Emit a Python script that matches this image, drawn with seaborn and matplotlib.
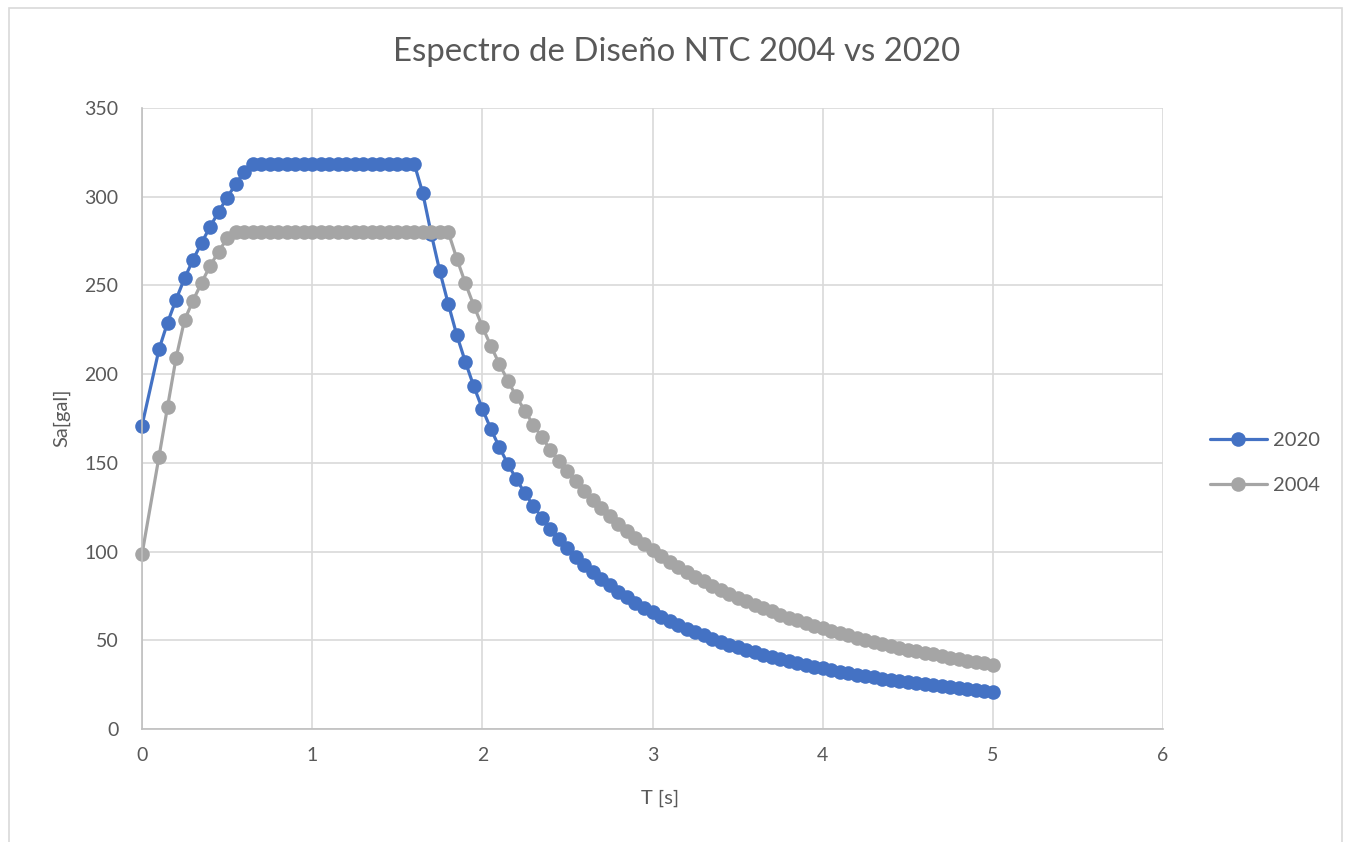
import matplotlib
matplotlib.use("Agg")
import matplotlib.pyplot as plt
import pandas as pd
import seaborn as sns
from matplotlib.patches import Rectangle

# Periodos estructurales T [s]
periods = [
    0.0, 0.1, 0.15, 0.2, 0.25, 0.3, 0.35, 0.4, 0.45, 0.5,
    0.55, 0.6, 0.65, 0.7, 0.75, 0.8, 0.85, 0.9, 0.95, 1.0,
    1.05, 1.1, 1.15, 1.2, 1.25, 1.3, 1.35, 1.4, 1.45, 1.5,
    1.55, 1.6, 1.65, 1.7, 1.75, 1.8, 1.85, 1.9, 1.95, 2.0,
    2.05, 2.1, 2.15, 2.2, 2.25, 2.3, 2.35, 2.4, 2.45, 2.5,
    2.55, 2.6, 2.65, 2.7, 2.75, 2.8, 2.85, 2.9, 2.95, 3.0,
    3.05, 3.1, 3.15, 3.2, 3.25, 3.3, 3.35, 3.4, 3.45, 3.5,
    3.55, 3.6, 3.65, 3.7, 3.75, 3.8, 3.85, 3.9, 3.95, 4.0,
    4.05, 4.1, 4.15, 4.2, 4.25, 4.3, 4.35, 4.4, 4.45, 4.5,
    4.55, 4.6, 4.65, 4.7, 4.75, 4.8, 4.85, 4.9, 4.95, 5.0,
]

# Aceleracion espectral Sa [gal], NTC 2020
sa_2020 = [
    171.0, 214.0, 229.0, 242.0, 254.0, 264.5, 274.0, 283.0, 291.5, 299.5,
    307.0, 314.0, 318.5, 318.5, 318.5, 318.5, 318.5, 318.5, 318.5, 318.5,
    318.5, 318.5, 318.5, 318.5, 318.5, 318.5, 318.5, 318.5, 318.5, 318.5,
    318.5, 318.5, 302.0, 279.0, 258.0, 239.5, 222.0, 207.0, 193.1, 180.5,
    169.1, 158.8, 149.4, 140.8, 132.9, 125.7, 119.0, 112.9, 107.2, 102.0,
    97.2, 92.6, 88.4, 84.5, 80.9, 77.4, 74.2, 71.2, 68.4, 65.7,
    63.2, 60.9, 58.7, 56.6, 54.6, 52.7, 50.9, 49.2, 47.6, 46.0,
    44.6, 43.2, 41.9, 40.6, 39.4, 38.3, 37.2, 36.1, 35.1, 34.1,
    33.2, 32.3, 31.5, 30.6, 29.9, 29.1, 28.4, 27.7, 27.0, 26.4,
    25.7, 25.1, 24.6, 24.0, 23.5, 22.9, 22.4, 21.9, 21.5, 21.0,
]

# Aceleracion espectral Sa [gal], NTC 2004
sa_2004 = [
    98.5, 153.5, 181.5, 209.0, 230.5, 241.5, 251.5, 261.0, 269.0, 276.5,
    280.0, 280.0, 280.0, 280.0, 280.0, 280.0, 280.0, 280.0, 280.0, 280.0,
    280.0, 280.0, 280.0, 280.0, 280.0, 280.0, 280.0, 280.0, 280.0, 280.0,
    280.0, 280.0, 280.0, 280.0, 280.0, 280.0, 265.1, 251.3, 238.6, 226.8,
    215.9, 205.7, 196.3, 187.4, 179.2, 171.5, 164.3, 157.5, 151.1, 145.2,
    139.5, 134.2, 129.2, 124.4, 120.0, 115.7, 111.7, 107.9, 104.2, 100.8,
    97.5, 94.4, 91.4, 88.6, 85.9, 83.3, 80.8, 78.5, 76.2, 74.1,
    72.0, 70.0, 68.1, 66.3, 64.5, 62.8, 61.2, 59.6, 58.1, 56.7,
    55.3, 54.0, 52.7, 51.4, 50.2, 49.1, 47.9, 46.9, 45.8, 44.8,
    43.8, 42.9, 42.0, 41.1, 40.2, 39.4, 38.6, 37.8, 37.0, 36.3,
]

series_names = ["2020", "2004"]
series_colors = ["#4472C4", "#A5A5A5"]
x_ticks = [0, 1, 2, 3, 4, 5, 6]
y_ticks = [0, 50, 100, 150, 200, 250, 300, 350]

df = pd.DataFrame({
    "T": periods + periods,
    "Sa": sa_2020 + sa_2004,
    "serie": [series_names[0]] * len(periods) + [series_names[1]] * len(periods),
})

sns.set_style("white")
plt.rcParams["font.family"] = ["Lato", "DejaVu Sans"]

text_color = "#595959"
grid_color = "#D9D9D9"

fig = plt.figure(figsize=(13.51, 8.42), dpi=100)
ax = fig.add_axes([142 / 1351, 1 - 729 / 842, 1021 / 1351, 621 / 842])

sns.lineplot(
    data=df, x="T", y="Sa", hue="serie", hue_order=series_names,
    palette=series_colors, marker="o", markersize=10.5, markeredgewidth=0,
    linewidth=2.3, sort=False, estimator=None, clip_on=False, ax=ax,
    legend=True,
)

ax.set_xlim(0, 6)
ax.set_ylim(0, 350)
ax.set_xticks(x_ticks)
ax.set_yticks(y_ticks)
ax.grid(True, color=grid_color, linewidth=1.2)
ax.set_axisbelow(True)
for side in ("top", "right"):
    ax.spines[side].set_visible(False)
for side in ("left", "bottom"):
    ax.spines[side].set_color("#BFBFBF")
    ax.spines[side].set_linewidth(1.2)
ax.tick_params(axis="both", length=0, labelsize=14, labelcolor=text_color)
ax.tick_params(axis="x", pad=13)
ax.tick_params(axis="y", pad=17)

ax.set_xlabel("T [s]", fontsize=14.5, color=text_color)
ax.set_ylabel("Sa[gal]", fontsize=14.5, color=text_color)
ax.xaxis.set_label_coords((660 - 142) / 1021, (729 - 798) / 621)
ax.xaxis.label.set_va("center")
ax.yaxis.set_label_coords((62 - 142) / 1021, (729 - 418) / 621)
ax.yaxis.label.set_va("center")

handles, labels = ax.get_legend_handles_labels()
ax.get_legend().remove()
fig.legend(
    handles, labels, loc="center left",
    bbox_to_anchor=(1192 / 1351, 1 - 463 / 842),
    frameon=False, fontsize=14.5, labelcolor=text_color,
    handlelength=2.8, handletextpad=0.3, labelspacing=1.4,
)

fig.text(677 / 1351, 1 - 52 / 842, "Espectro de Diseño NTC 2004 vs 2020",
         ha="center", va="center", fontsize=23.8, color=text_color)

fig.patches.append(Rectangle(
    (9 / 1351, -0.05), (1342 - 9) / 1351, 1.05 - 8 / 842,
    transform=fig.transFigure, fill=False, edgecolor=grid_color, linewidth=1.2,
))

fig.savefig("out.png", dpi=100)
